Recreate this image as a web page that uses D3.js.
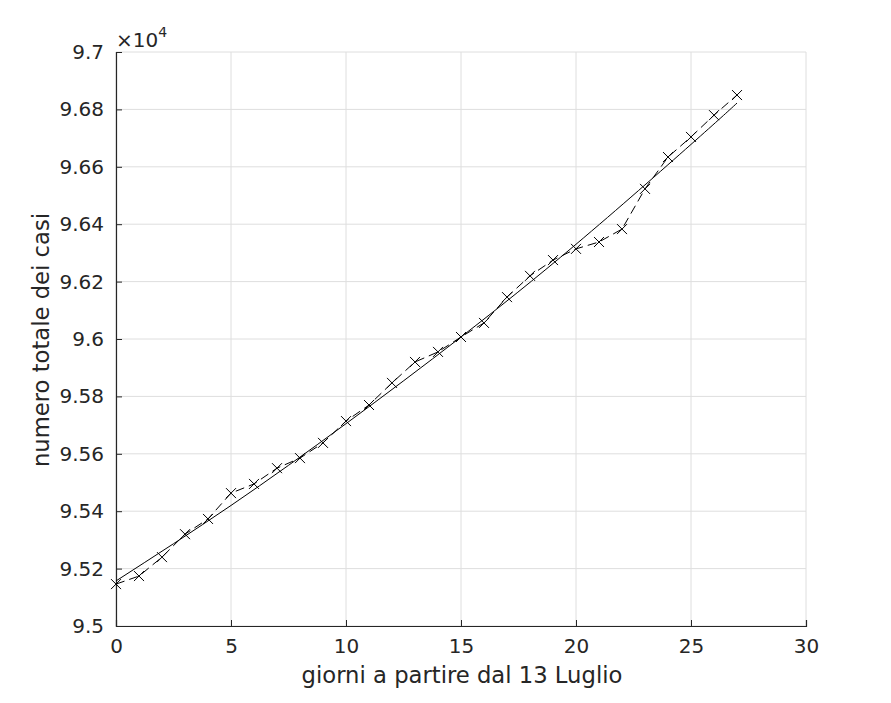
<!DOCTYPE html>
<html><head><meta charset="utf-8">
<script src="https://cdn.jsdelivr.net/npm/d3@7"></script>
<style>body{margin:0;background:#fff;} text{font-family:"DejaVu Sans",sans-serif;}</style>
</head><body>
<svg id="c" width="891" height="703"></svg>
<script>
const days = [0,1,2,3,4,5,6,7,8,9,10,11,12,13,14,15,16,17,18,19,20,21,22,23,24,25,26,27];
const cases = [95146,95174,95240,95320,95373,95463,95495,95550,95585,95638,95714,95770,95847,95920,95955,96007,96056,96146,96220,96275,96314,96338,96383,96523,96634,96704,96780,96850];
const fitDays = [0,5,10,15,20,25,27];
const fitCases = [95157,95420,95705,96007,96330,96678,96822];
const xTicks = [0,5,10,15,20,25,30];
const yTicks = [95000,95200,95400,95600,95800,96000,96200,96400,96600,96800,97000];
const yTickLabels = ["9.5","9.52","9.54","9.56","9.58","9.6","9.62","9.64","9.66","9.68","9.7"];

const svg = d3.select("#c");
const L=116, R=806, T=52, B=626;
const x = d3.scaleLinear().domain([0,30]).range([L,R]);
const y = d3.scaleLinear().domain([95000,97000]).range([B,T]);
const axisCol="#262626";

// grid
svg.append("g").selectAll("line").data(xTicks).join("line")
  .attr("x1",d=>x(d)).attr("x2",d=>x(d)).attr("y1",T).attr("y2",B)
  .attr("stroke","#dedede").attr("stroke-width",1);
svg.append("g").selectAll("line").data(yTicks).join("line")
  .attr("x1",L).attr("x2",R).attr("y1",d=>y(d)).attr("y2",d=>y(d))
  .attr("stroke","#dedede").attr("stroke-width",1);

// axes
const xa = svg.append("g").attr("transform",`translate(0,${B})`)
  .call(d3.axisBottom(x).tickValues(xTicks).tickSize(-6).tickPadding(13).tickFormat(d3.format("d")));
const ya = svg.append("g").attr("transform",`translate(${L},0)`)
  .call(d3.axisLeft(y).tickValues(yTicks).tickSize(-6).tickPadding(12).tickFormat((d,i)=>yTickLabels[i]));
[xa,ya].forEach(a=>{
  a.select(".domain").attr("stroke",axisCol).attr("stroke-width",1.2);
  a.selectAll(".tick line").attr("stroke",axisCol);
  a.selectAll(".tick text").attr("fill",axisCol).attr("font-size",20).attr("font-family","DejaVu Sans");
});

// fit curve
svg.append("path").datum(fitDays.map((d,i)=>[d,fitCases[i]]))
  .attr("d",d3.line().x(d=>x(d[0])).y(d=>y(d[1])).curve(d3.curveNatural))
  .attr("fill","none").attr("stroke","#000").attr("stroke-width",1);

// data dashed
svg.append("path").datum(days.map((d,i)=>[d,cases[i]]))
  .attr("d",d3.line().x(d=>x(d[0])).y(d=>y(d[1])))
  .attr("fill","none").attr("stroke","#000").attr("stroke-width",1).attr("stroke-dasharray","9,5");

// markers
const s=5;
svg.append("g").selectAll("path").data(days.map((d,i)=>[d,cases[i]])).join("path")
  .attr("d",d=>{const cx=x(d[0]),cy=y(d[1]);return `M${cx-s},${cy-s}L${cx+s},${cy+s}M${cx-s},${cy+s}L${cx+s},${cy-s}`;})
  .attr("stroke","#000").attr("stroke-width",1).attr("fill","none");

// exponent
const ex = svg.append("text").attr("x",L).attr("y",47).attr("fill",axisCol).attr("font-size",20);
ex.append("tspan").text("×10");
ex.append("tspan").attr("dy",-10).attr("font-size",14).text("4");

// labels
svg.append("text").attr("x",(L+R)/2+1).attr("y",683).attr("text-anchor","middle")
  .attr("fill",axisCol).attr("font-size",22.7).text("giorni a partire dal 13 Luglio");
svg.append("text").attr("transform",`translate(49,340) rotate(-90)`).attr("text-anchor","middle")
  .attr("fill",axisCol).attr("font-size",22.7).text("numero totale dei casi");
</script>
</body></html>
